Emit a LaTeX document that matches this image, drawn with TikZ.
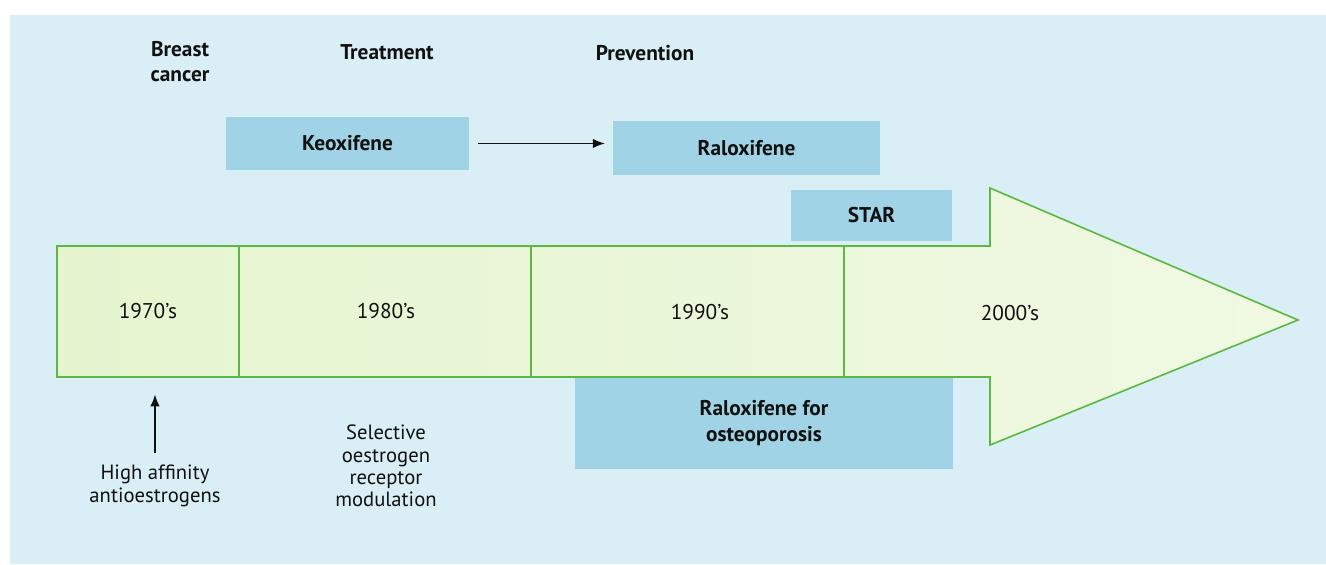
\documentclass[tikz,border=0pt]{standalone}
\usepackage{fontspec}
\setmainfont{PT Sans}
\usetikzlibrary{arrows.meta}
\definecolor{PageBlue}{HTML}{DAEFF5}
\definecolor{BoxBlue}{HTML}{A0D3E5}
\definecolor{LineGreen}{HTML}{5DB843}
\definecolor{PaleGreen}{HTML}{E6F5D0}
\definecolor{MidGreen}{HTML}{C4E7A0}
\definecolor{InkGray}{HTML}{111111}

\begin{document}
\begin{tikzpicture}[x=0.75pt,y=-0.75pt,
    every node/.style={text=InkGray, font=\fontsize{16}{19}\selectfont},
    drug/.style={fill=BoxBlue, inner sep=0pt, align=center,
      font=\fontsize{16}{19}\selectfont\bfseries},
    head/.style={align=center, font=\fontsize{16}{18.75}\selectfont\bfseries},
    note/.style={align=center, font=\fontsize{15.5}{16.8}\selectfont},
    link/.style={-{Latex[length=9pt,width=7pt]}, line width=1.1pt, InkGray}]

  \useasboundingbox (0,0) rectangle (1326,564);
  \fill[PageBlue] (10,15) rectangle (1326,564);

  % headings
  \node[head] (breast) at (180,62) {Breast\\cancer};
  \node[head] (treat) at (387,52) {Treatment};
  \node[head] (prev) at (645,53) {Prevention};

  % drug boxes
  \node[drug, minimum width=182pt, minimum height=40pt] (keo) at (347.5,143.5) {Keoxifene};
  \node[drug, minimum width=200pt, minimum height=40.5pt] (ralox) at (746.5,148) {Raloxifene};
  \node[drug, minimum width=120.75pt, minimum height=38.25pt] (star) at (871.5,215.5) {STAR};
  \node[drug, minimum width=283.5pt, minimum height=69pt] (osteo) at (764,423)
    {Raloxifene for\\osteoporosis};

  \draw[link, shorten <=6.75pt, shorten >=6pt] (keo.east) -- (keo.east -| ralox.west);

  % timeline arrow
  \draw[draw=LineGreen, line width=1.2pt,
        left color=PaleGreen, middle color=MidGreen, right color=PaleGreen!60!white]
    (57,246) -- (990,246) -- (990,188) -- (1298,320) -- (990,445)
    -- (990,377) -- (57,377) -- cycle;
  \foreach \x in {239,531,844}
    \draw[LineGreen, line width=1pt] (\x,246) -- (\x,377);

  \node (d70) at (148,311) {1970's};
  \node (d80) at (386,311) {1980's};
  \node (d90) at (700,312) {1990's};
  \node (d00) at (1010,313) {2000's};
  \coordinate (bar70) at (155,377);

  % notes below
  \node[note] (hiaff) at (155,486) {High affinity\\antioestrogens};
  \node[note] (serm) at (386,466) {Selective\\oestrogen\\receptor\\modulation};

  \draw[link, shorten <=6pt, shorten >=13pt] (hiaff.north) -- (bar70);
\end{tikzpicture}
\end{document}
